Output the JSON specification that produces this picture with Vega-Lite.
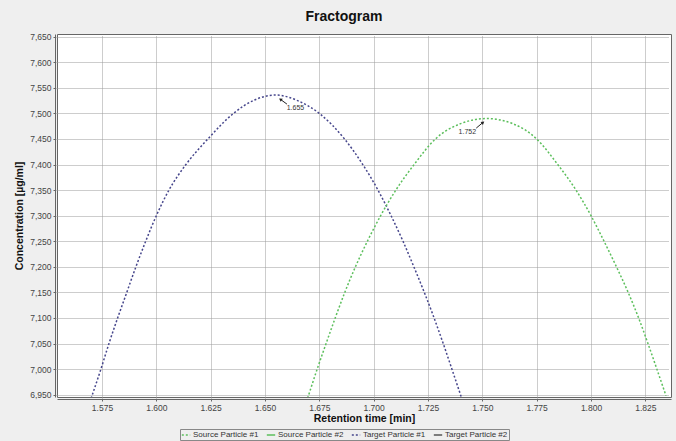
{
  "$schema": "https://vega.github.io/schema/vega-lite/v6.json",
  "width": 614,
  "height": 363,
  "autosize": "none",
  "padding": {"left": 57, "top": 34, "right": 5, "bottom": 44},
  "background": "#efefef",
  "title": {"text": "Fractogram", "fontSize": 14, "font": "Liberation Sans", "fontWeight": "bold", "color": "#111", "offset": 9, "dx": -20},
  "config": {
    "view": {"fill": "white", "stroke": "#666", "strokeWidth": 1},
    "axis": {
      "labelFont": "Liberation Sans", "labelFontSize": 8.5, "labelColor": "#444", "labelOverlap": false,
      "titleFont": "Liberation Sans", "titleFontSize": 10.5, "titleFontWeight": "bold", "titleColor": "#111",
      "grid": true, "gridColor": "#9a9a9a", "gridDash": [1, 1], "gridWidth": 1,
      "tickSize": 2, "tickColor": "#666", "domainColor": "#666", "offset": 2, "labelPadding": 2
    }
  },
  "datasets": {
    "curves": [
      {"series": "Target Particle #1", "t": 1.5700, "c": 6943},
      {"series": "Target Particle #1", "t": 1.5745, "c": 7000},
      {"series": "Target Particle #1", "t": 1.5782, "c": 7050},
      {"series": "Target Particle #1", "t": 1.5822, "c": 7100},
      {"series": "Target Particle #1", "t": 1.5864, "c": 7150},
      {"series": "Target Particle #1", "t": 1.5906, "c": 7200},
      {"series": "Target Particle #1", "t": 1.5951, "c": 7250},
      {"series": "Target Particle #1", "t": 1.6000, "c": 7300},
      {"series": "Target Particle #1", "t": 1.6058, "c": 7350},
      {"series": "Target Particle #1", "t": 1.6136, "c": 7400},
      {"series": "Target Particle #1", "t": 1.6237, "c": 7450},
      {"series": "Target Particle #1", "t": 1.6355, "c": 7500},
      {"series": "Target Particle #1", "t": 1.6450, "c": 7526},
      {"series": "Target Particle #1", "t": 1.6550, "c": 7536},
      {"series": "Target Particle #1", "t": 1.6650, "c": 7525},
      {"series": "Target Particle #1", "t": 1.6750, "c": 7500},
      {"series": "Target Particle #1", "t": 1.6866, "c": 7450},
      {"series": "Target Particle #1", "t": 1.6950, "c": 7400},
      {"series": "Target Particle #1", "t": 1.7020, "c": 7350},
      {"series": "Target Particle #1", "t": 1.7080, "c": 7300},
      {"series": "Target Particle #1", "t": 1.7135, "c": 7250},
      {"series": "Target Particle #1", "t": 1.7185, "c": 7200},
      {"series": "Target Particle #1", "t": 1.7233, "c": 7150},
      {"series": "Target Particle #1", "t": 1.7278, "c": 7100},
      {"series": "Target Particle #1", "t": 1.7320, "c": 7050},
      {"series": "Target Particle #1", "t": 1.7360, "c": 7000},
      {"series": "Target Particle #1", "t": 1.7405, "c": 6943},
      {"series": "Source Particle #1", "t": 1.6696, "c": 6943},
      {"series": "Source Particle #1", "t": 1.6740, "c": 7000},
      {"series": "Source Particle #1", "t": 1.6781, "c": 7050},
      {"series": "Source Particle #1", "t": 1.6823, "c": 7100},
      {"series": "Source Particle #1", "t": 1.6867, "c": 7150},
      {"series": "Source Particle #1", "t": 1.6916, "c": 7200},
      {"series": "Source Particle #1", "t": 1.6971, "c": 7250},
      {"series": "Source Particle #1", "t": 1.7032, "c": 7300},
      {"series": "Source Particle #1", "t": 1.7102, "c": 7350},
      {"series": "Source Particle #1", "t": 1.7186, "c": 7400},
      {"series": "Source Particle #1", "t": 1.7284, "c": 7450},
      {"series": "Source Particle #1", "t": 1.7400, "c": 7480},
      {"series": "Source Particle #1", "t": 1.7520, "c": 7490},
      {"series": "Source Particle #1", "t": 1.7640, "c": 7480},
      {"series": "Source Particle #1", "t": 1.7750, "c": 7450},
      {"series": "Source Particle #1", "t": 1.7847, "c": 7400},
      {"series": "Source Particle #1", "t": 1.7931, "c": 7350},
      {"series": "Source Particle #1", "t": 1.8000, "c": 7300},
      {"series": "Source Particle #1", "t": 1.8060, "c": 7250},
      {"series": "Source Particle #1", "t": 1.8117, "c": 7200},
      {"series": "Source Particle #1", "t": 1.8171, "c": 7150},
      {"series": "Source Particle #1", "t": 1.8219, "c": 7100},
      {"series": "Source Particle #1", "t": 1.8262, "c": 7050},
      {"series": "Source Particle #1", "t": 1.8303, "c": 7000},
      {"series": "Source Particle #1", "t": 1.8345, "c": 6948}
    ],
    "peaks": [
      {"label": "1.655", "tx": 1.6640, "ty": 7510, "ax": 1.6601, "ay": 7518.2, "hx": 1.6571, "hy": 7527.5},
      {"label": "1.752", "tx": 1.7431, "ty": 7463.4, "ax": 1.7472, "ay": 7471.3, "hx": 1.7503, "hy": 7482.4}
    ]
  },
  "layer": [
    {
      "data": {"name": "curves"},
      "mark": {"type": "line", "strokeWidth": 1.5, "interpolate": "monotone", "clip": true},
      "encoding": {
        "x": {"field": "t", "type": "quantitative", "scale": {"domain": [1.5543, 1.8368], "nice": false, "zero": false},
          "axis": {"title": "Retention time [min]", "values": [1.575, 1.6, 1.625, 1.65, 1.675, 1.7, 1.725, 1.75, 1.775, 1.8, 1.825], "tickCount": 30, "format": ".3f", "titlePadding": 2}},
        "y": {"field": "c", "type": "quantitative", "scale": {"domain": [6945.5, 7655.3], "nice": false, "zero": false},
          "axis": {"title": "Concentration [µg/ml]", "values": [6950, 7000, 7050, 7100, 7150, 7200, 7250, 7300, 7350, 7400, 7450, 7500, 7550, 7600, 7650], "tickCount": 30, "format": ",d", "titlePadding": 5}},
        "color": {"field": "series", "type": "nominal",
          "scale": {"domain": ["Source Particle #1", "Source Particle #2", "Target Particle #1", "Target Particle #2"], "range": ["#5cbf5c", "#5cbf5c", "#46468c", "#555555"]},
          "legend": {"title": null, "orient": "none", "legendX": 123, "legendY": 395, "direction": "horizontal", "columns": 4, "strokeColor": "#888", "padding": 1, "labelFont": "Liberation Sans", "labelFontSize": 8, "labelColor": "#333", "symbolType": "stroke", "symbolStrokeWidth": 1.5, "symbolSize": 70, "columnPadding": 4, "labelOffset": 2, "rowPadding": 0}},
        "strokeDash": {"field": "series", "type": "nominal",
          "scale": {"domain": ["Source Particle #1", "Source Particle #2", "Target Particle #1", "Target Particle #2"], "range": [[2, 2], [1, 0], [2, 2], [1, 0]]},
          "legend": {"title": null, "orient": "none", "legendX": 123, "legendY": 395, "direction": "horizontal", "columns": 4, "strokeColor": "#888", "padding": 1, "labelFont": "Liberation Sans", "labelFontSize": 8, "labelColor": "#333", "symbolType": "stroke", "symbolStrokeWidth": 1.5, "symbolSize": 70, "columnPadding": 4, "labelOffset": 2, "rowPadding": 0}}
      }
    },
    {
      "data": {"name": "peaks"},
      "mark": {"type": "rule", "color": "#222", "strokeWidth": 1},
      "encoding": {
        "x": {"field": "ax", "type": "quantitative"},
        "y": {"field": "ay", "type": "quantitative"},
        "x2": {"field": "hx"},
        "y2": {"field": "hy"}
      }
    },
    {
      "data": {"name": "peaks"},
      "transform": [{"filter": "datum.label == '1.655'"}],
      "mark": {"type": "point", "shape": "triangle-up", "filled": true, "color": "#222", "size": 14, "angle": 305, "opacity": 1},
      "encoding": {
        "x": {"field": "hx", "type": "quantitative"},
        "y": {"field": "hy", "type": "quantitative"}
      }
    },
    {
      "data": {"name": "peaks"},
      "transform": [{"filter": "datum.label == '1.752'"}],
      "mark": {"type": "point", "shape": "triangle-up", "filled": true, "color": "#222", "size": 14, "angle": 50, "opacity": 1},
      "encoding": {
        "x": {"field": "hx", "type": "quantitative"},
        "y": {"field": "hy", "type": "quantitative"}
      }
    },
    {
      "data": {"name": "peaks"},
      "mark": {"type": "text", "font": "Liberation Sans", "fontSize": 7, "color": "#333", "align": "center", "baseline": "middle"},
      "encoding": {
        "x": {"field": "tx", "type": "quantitative"},
        "y": {"field": "ty", "type": "quantitative"},
        "text": {"field": "label"}
      }
    }
  ]
}
